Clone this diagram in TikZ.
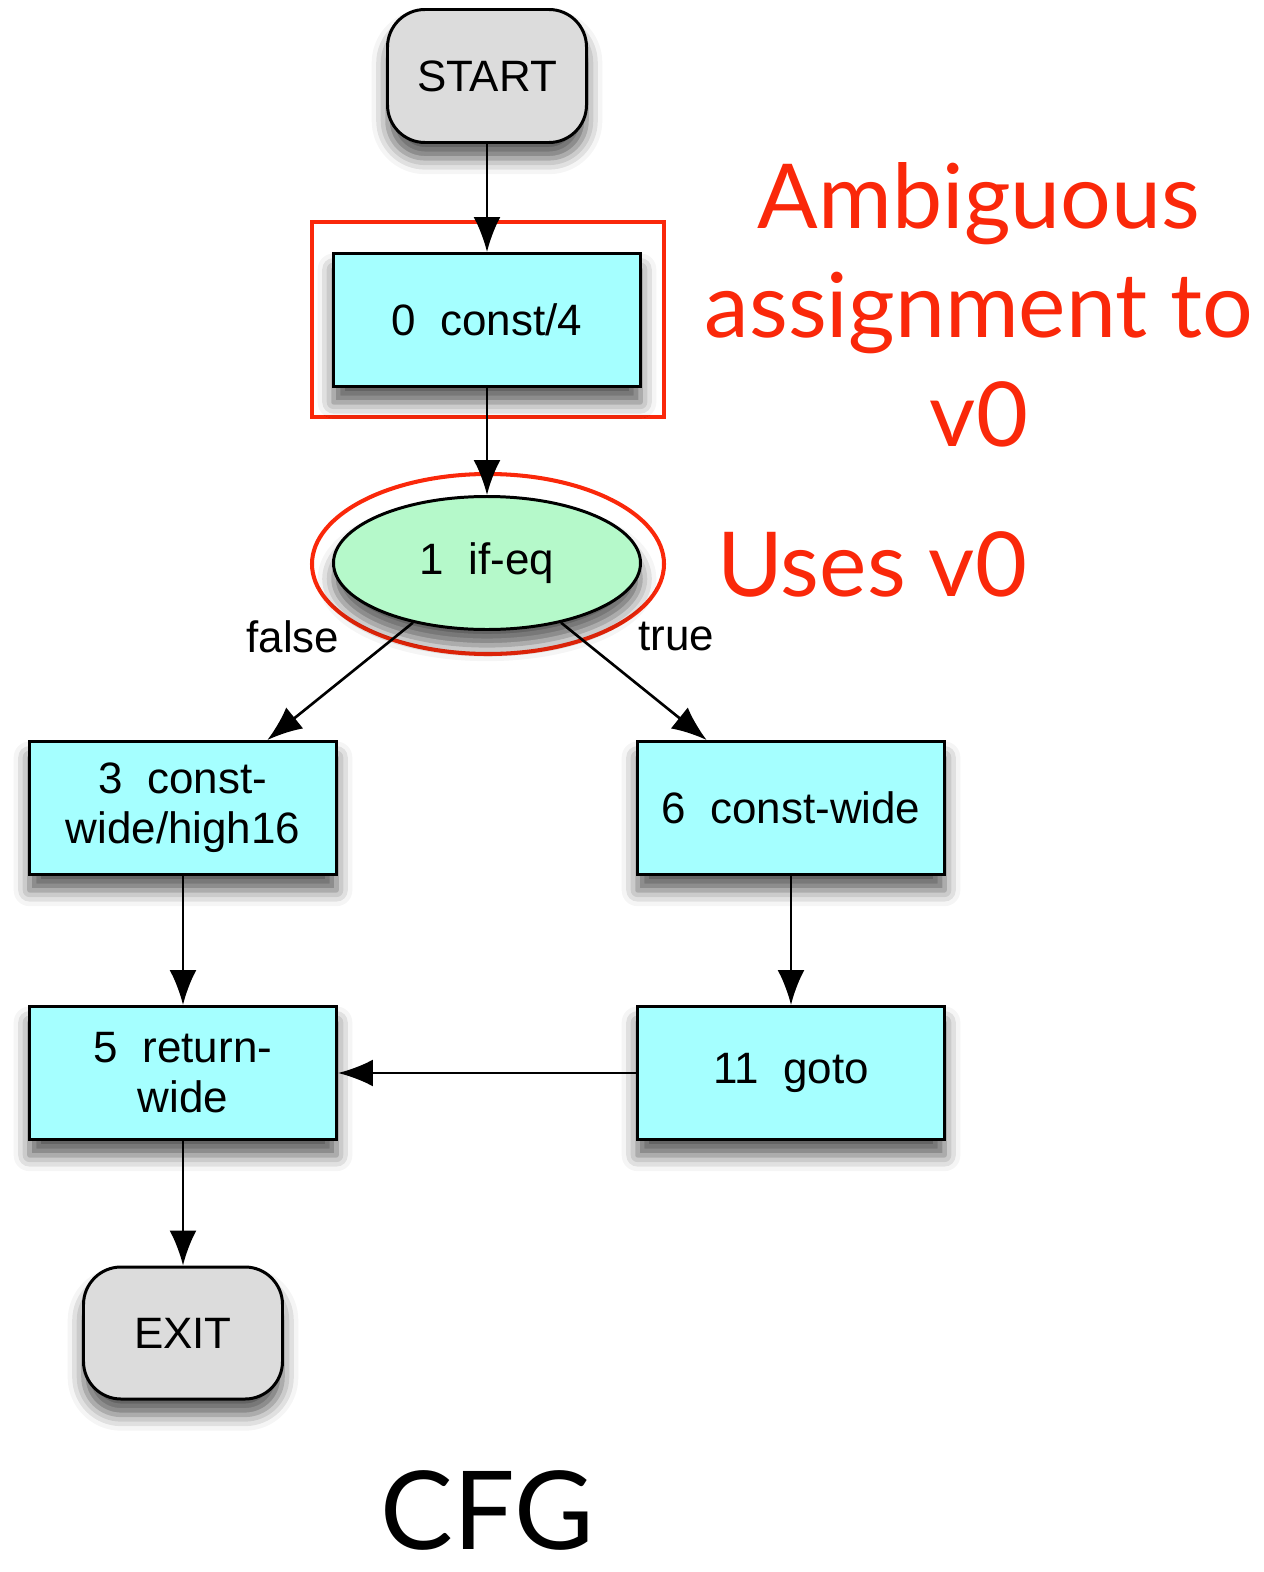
\documentclass[tikz,border=0pt]{standalone}
\usepackage{fontspec}
\setmainfont{Liberation Sans}
\newfontfamily\gillfont{Lato}
\usetikzlibrary{positioning,shapes.geometric,arrows.meta,shadows.blur}
\definecolor{boxcyan}{RGB}{165,255,255}
\definecolor{ovalgreen}{RGB}{181,249,202}
\definecolor{termgray}{RGB}{220,220,220}
\definecolor{hlred}{RGB}{250,40,10}
\tikzset{>={Latex[length=7mm,width=5.4mm]}}

\begin{document}
\begin{tikzpicture}
                % term = START/EXIT, instr = instruction box, hilite = red highlight
                \tikzstyle{every node}=[font=\fontsize{25}{28.5}\selectfont]
                \tikzstyle{shade}=[blur shadow={shadow xshift=0pt, shadow yshift=-9pt, shadow blur radius=9pt, shadow opacity=65}]
                \tikzstyle{term}=[shade, draw=black, line width=1.7pt, fill=termgray, rounded corners=0.75cm, minimum width=3.98cm, minimum height=2.66cm]
                \tikzstyle{instr}=[shade, draw=black, line width=1.7pt, fill=boxcyan, minimum width=6.14cm, minimum height=2.66cm, align=center, inner sep=0pt]
                \tikzstyle{branch}=[instr, ellipse, fill=ovalgreen]
                \tikzstyle{hilite}=[draw=hlred, line width=2.3pt, inner sep=0pt]
                \tikzstyle{flow}=[->, line width=1.5pt]
                \tikzstyle{note}=[text=hlred, font=\gillfont\fontsize{51}{62}\selectfont, align=center]

                \useasboundingbox (0, 0) rectangle (25.26, -31.44);

                \node[hilite, rectangle, minimum width=7.04cm, minimum height=3.9cm] (hl0) at (9.76, -6.39) {};
                \node[hilite, ellipse, minimum width=7.04cm, minimum height=3.6cm] (hl1) at (9.76, -11.28) {};

                \node[term] (start) at (9.74, -1.52) {START};
                \node[instr] (c0) at (9.74, -6.40) {0~~const/4};
                \node[branch] (b1) at (9.74, -11.26) {1~~if-eq};

                \node[instr] (c3) at (3.66, -16.16) {3~~const-\\wide/high16};
                \node[instr] (c6) at (15.82, -16.16) {6~~const-wide};
                \node[instr] (r5) [below=2.58cm of c3] {5~~return-\\wide};
                \node[instr] (g11) [below=2.58cm of c6] {11~~goto};
                \node[term, minimum height=2.64cm] (exit) at (3.66, -26.66) {EXIT};

                \draw[flow] (start) -- (c0);
                \draw[flow] (c0) -- (b1);
                \draw[flow] (b1) -- (c3);
                \draw[flow] (b1) -- (c6);
                \draw[flow] (c3) -- (r5);
                \draw[flow] (c6) -- (g11);
                \draw[flow] (g11) -- (r5);
                \draw[flow] (r5) -- (exit);

                \node (lfalse) at (5.86, -12.74) {false};
                \node (ltrue) at (13.52, -12.74) {true};

                \node[note] (amb) at (19.58, -6.1) {Ambiguous\\assignment to\\v0};
                \node[note] (uses) at (17.44, -11.28) {Uses v0};

                \node[font=\gillfont\fontsize{62}{70}\selectfont, inner sep=0pt] (cfg) at (9.74, -30.2) {CFG};
\end{tikzpicture}
\end{document}
